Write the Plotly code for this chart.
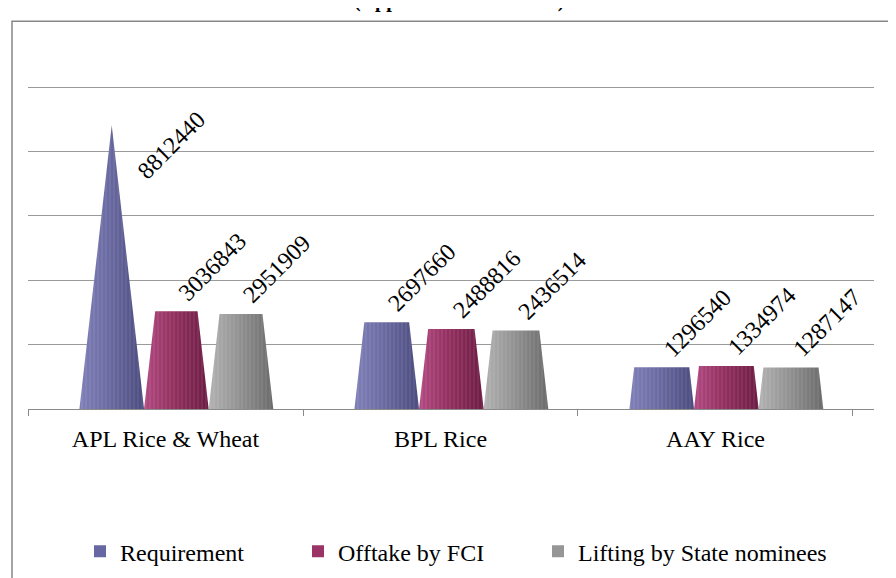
import plotly.graph_objects as go

# ---------------- data ----------------
categories = ["APL Rice & Wheat", "BPL Rice", "AAY Rice"]
series_names = ["Requirement", "Offtake by FCI", "Lifting by State nominees"]
requirement = [8812440, 2697660, 1296540]
offtake = [3036843, 2488816, 1334974]
lifting = [2951909, 2436514, 1287147]
y_gridvals = [0, 2000000, 4000000, 6000000, 8000000, 10000000]
title_text = "(Apportionment in MTs)"

series_values = [requirement, offtake, lifting]

# ---------------- style ----------------
FONT = "Liberation Serif"
legend_colors = ["#6767a3", "#9c3367", "#969696"]
grad_colors = [
    [[0, "#8080b8"], [0.45, "#6a6aa2"], [1, "#4b4b7e"]],
    [[0, "#b24a82"], [0.45, "#93305f"], [1, "#6c1c44"]],
    [[0, "#b2b2b2"], [0.45, "#939393"], [1, "#6a6a6a"]],
]
GROUP_OFF = 0.187   # offset of first bar inside category (3D depth shift)
BAR_W = 0.235       # base width of each pyramid (category units)
X_MAX = 3.0764
W, H = 888, 578     # page body adds an 8px left margin
L, R, T, B = 20, 22, 20, 168
PLOT_H = H - T - B
PLOT_W = W - L - R
PX_PER_UNIT = 65.9 / 2000000
Y_MAX = PLOT_H / PX_PER_UNIT
BASE_PX = H - B     # pixel row of the value axis zero

vmax = max(max(s) for s in series_values)

fig = go.Figure()

annotations = []
for j, vals in enumerate(series_values):
    for i, v in enumerate(vals):
        xl = i + GROUP_OFF + j * BAR_W
        xr = xl + BAR_W
        shrink = BAR_W * (v / vmax) / 2
        xs = [xl, xl + shrink, xr - shrink, xr, xl]
        ys = [0, v, v, 0, 0]
        fig.add_trace(go.Scatter(
            x=xs, y=ys, mode="lines", fill="toself",
            line=dict(width=0, color="rgba(0,0,0,0)"),
            fillgradient=dict(type="horizontal", colorscale=grad_colors[j]),
            showlegend=False, hoverinfo="skip"))
        fig.add_trace(go.Scatter(
            x=xs, y=ys, mode="lines", fill="toself",
            line=dict(width=0, color="rgba(0,0,0,0)"),
            fillcolor="rgba(0,0,0,0)",
            fillpattern=dict(shape="|", size=4, solidity=0.2,
                             fgcolor="rgba(255,255,255,0.30)",
                             bgcolor="rgba(0,0,0,0)", fillmode="overlay"),
            showlegend=False, hoverinfo="skip"))
        is_apex = v == vmax
        annotations.append(dict(
            x=(xl + xr) / 2, y=v, xref="x", yref="y",
            text=f"{v}", showarrow=False, textangle=-45,
            xanchor="left", yanchor="bottom",
            xshift=18 if is_apex else -6,
            yshift=-61 if is_apex else 3,
            font=dict(family=FONT, size=24, color="#000000")))

# legend entries (square markers), one legend per item for exact placement
legend_ids = ["legend", "legend2", "legend3"]
legend_left_px = [72, 290, 530]
for j, name in enumerate(series_names):
    fig.add_trace(go.Scatter(
        x=[None], y=[None], mode="markers", name=name,
        marker=dict(symbol="square", size=12, color=legend_colors[j]),
        legend=legend_ids[j], showlegend=True))

legend_y = (BASE_PX - 556) / PLOT_H
legend_kw = {}
for j, lid in enumerate(legend_ids):
    legend_kw[lid] = dict(
        x=(legend_left_px[j] - L) / PLOT_W, y=legend_y,
        xanchor="left", yanchor="middle", orientation="h",
        bgcolor="rgba(0,0,0,0)", borderwidth=0,
        font=dict(family=FONT, size=24, color="#000000"))

# title: cut off at the very top, as in the source image
annotations.append(dict(
    x=(451 - L) / PLOT_W, y=(BASE_PX - 6) / PLOT_H, xref="paper", yref="paper",
    text=f"<b>{title_text}</b>", showarrow=False,
    xanchor="center", yanchor="bottom",
    font=dict(family=FONT, size=20, color="#000000")))

# outer chart border (extends past right/bottom edges)
shapes = [dict(
    type="rect", xref="paper", yref="paper",
    x0=(4 - L) / PLOT_W, x1=(900 - L) / PLOT_W,
    y0=(BASE_PX - 610) / PLOT_H, y1=(BASE_PX - 13) / PLOT_H,
    line=dict(color="#878787", width=1.5), fillcolor="rgba(0,0,0,0)",
    layer="below")]

fig.update_layout(
    width=W, height=H,
    margin=dict(l=L, r=R, t=T, b=B, pad=0),
    paper_bgcolor="white", plot_bgcolor="white",
    font=dict(family=FONT, size=24, color="#000000"),
    showlegend=True,
    annotations=annotations,
    shapes=shapes,
    xaxis=dict(
        range=[0, X_MAX], showgrid=False, zeroline=False,
        showline=True, linecolor="#8a8a8a", linewidth=1,
        tickmode="array", tickvals=[i + 0.5 for i in range(len(categories))],
        ticktext=categories, ticks="",
        tickfont=dict(family=FONT, size=24, color="#000000"),
        ticklabelstandoff=8,
        minor=dict(tickmode="array", tickvals=list(range(len(categories) + 1)),
                   ticks="outside", ticklen=6, tickcolor="#8a8a8a",
                   tickwidth=1, showgrid=False),
        fixedrange=True),
    yaxis=dict(
        range=[0, Y_MAX], showticklabels=False, ticks="",
        tickmode="array", tickvals=y_gridvals,
        showgrid=True, gridcolor="#9a9a9a", gridwidth=1,
        zeroline=False, showline=False, fixedrange=True),
    **legend_kw,
)

fig.write_html("out.html")
